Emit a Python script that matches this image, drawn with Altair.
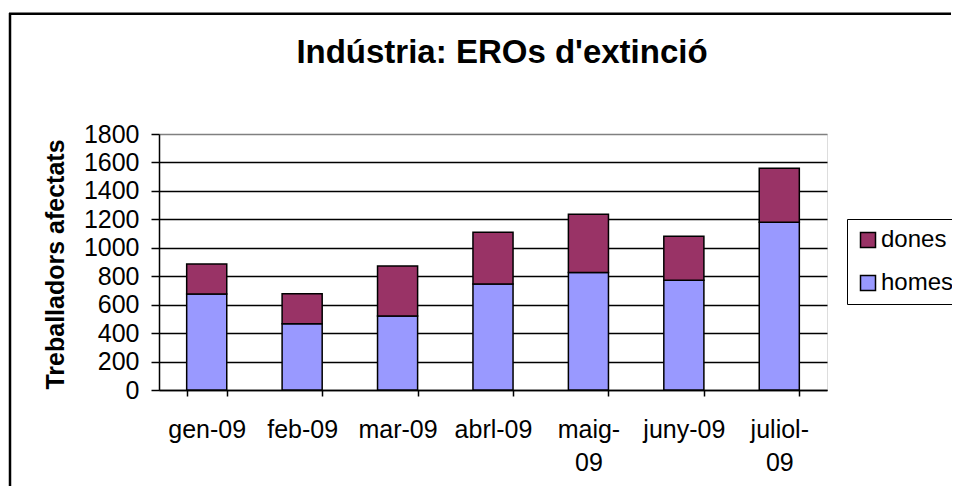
import altair as alt
import pandas as pd

months = ["gen-09", "feb-09", "mar-09", "abrl-09", "maig-09", "juny-09", "juliol-09"]
homes = [675, 465, 520, 745, 827, 771, 1179]
dones = [211, 211, 352, 364, 408, 310, 380]
series = ["dones", "homes"]
colors = ["#993366", "#9999FF"]
y_ticks = [0, 200, 400, 600, 800, 1000, 1200, 1400, 1600, 1800]
title_text = ["Indústria: EROs d'extinció"]

rows = []
for i, m in enumerate(months):
    rows.append({"mes": m, "serie": "homes", "valor": homes[i], "ordre": 0})
    rows.append({"mes": m, "serie": "dones", "valor": dones[i], "ordre": 1})
df = pd.DataFrame(rows)

FONT = "Liberation Sans"

bars = alt.Chart(df).mark_bar(stroke="black", strokeWidth=1.5).encode(
    x=alt.X(
        "mes:N", sort=months,
        scale=alt.Scale(paddingInner=0.58, paddingOuter=0.29),
        axis=alt.Axis(
            title=None, labelAngle=0, labelFontSize=25, labelFont=FONT,
            labelColor="black", labelLineHeight=33, labelPadding=21,
            tickBand="extent", tickSize=6, tickColor="black", tickWidth=1.5,
            domainColor="black", domainWidth=1.5, grid=False,
            labelExpr="indexof(['maig-09','juliol-09'], datum.label) >= 0 ? [replace(datum.label, '09', ''), '09'] : datum.label",
        ),
    ),
    y=alt.Y(
        "valor:Q", stack="zero",
        scale=alt.Scale(domain=[0, 1800], nice=False),
        axis=alt.Axis(
            values=y_ticks, format="d", title="Treballadors afectats",
            titleFont=FONT, titleFontSize=25, titleFontWeight="bold", titleColor="black",
            titleX=-104, titleY=130, titleAngle=270, titleAlign="center", titleBaseline="middle",
            labelFont=FONT, labelFontSize=25, labelColor="black", labelPadding=12,
            tickSize=8, tickColor="black", tickWidth=1.5,
            domainColor="black", domainWidth=1.5,
            grid=True, gridWidth=1.5,
            gridColor=alt.condition("datum.value === 1800", alt.value("#808080"), alt.value("#000000")),
        ),
    ),
    color=alt.Color(
        "serie:N",
        scale=alt.Scale(domain=series, range=colors),
        legend=alt.Legend(
            title=None, orient="none", legendX=688, legendY=85,
            strokeColor="black", padding=9, fillColor="white",
            symbolType="square", symbolSize=225, symbolStrokeColor="black",
            symbolStrokeWidth=1.5, symbolOpacity=1,
            labelFont=FONT, labelFontSize=24, labelColor="black",
            labelOffset=1, rowPadding=19,
        ),
    ),
    order=alt.Order("ordre:Q"),
)

deco = pd.DataFrame({"f": [0]})
frame = alt.Chart(deco).mark_rule(color="black", strokeWidth=2.5).encode(
    x=alt.value(-149), y=alt.value(-121), y2=alt.value(360)
)
top_edge = alt.Chart(deco).mark_rect(color="black").encode(
    x=alt.value(-150), x2=alt.value(792), y=alt.value(-121.5), y2=alt.value(-119)
)

title = alt.Chart(pd.DataFrame({"t": title_text})).mark_text(
    font=FONT, fontSize=33, fontWeight="bold", color="black",
    align="center", baseline="alphabetic",
).encode(x=alt.value(343), y=alt.value(-71), text="t:N")

chart = alt.layer(frame, top_edge, title, bars).properties(
    width=668, height=256,
    autosize=alt.AutoSizeParams(type="none"),
    padding={"left": 151, "top": 126, "right": 125, "bottom": 96},
).configure_view(
    fill="#C0C0C0", stroke="#808080", strokeWidth=2
).configure(background="white")

chart.save("out.html", embed_options={"renderer": "svg", "actions": False})
